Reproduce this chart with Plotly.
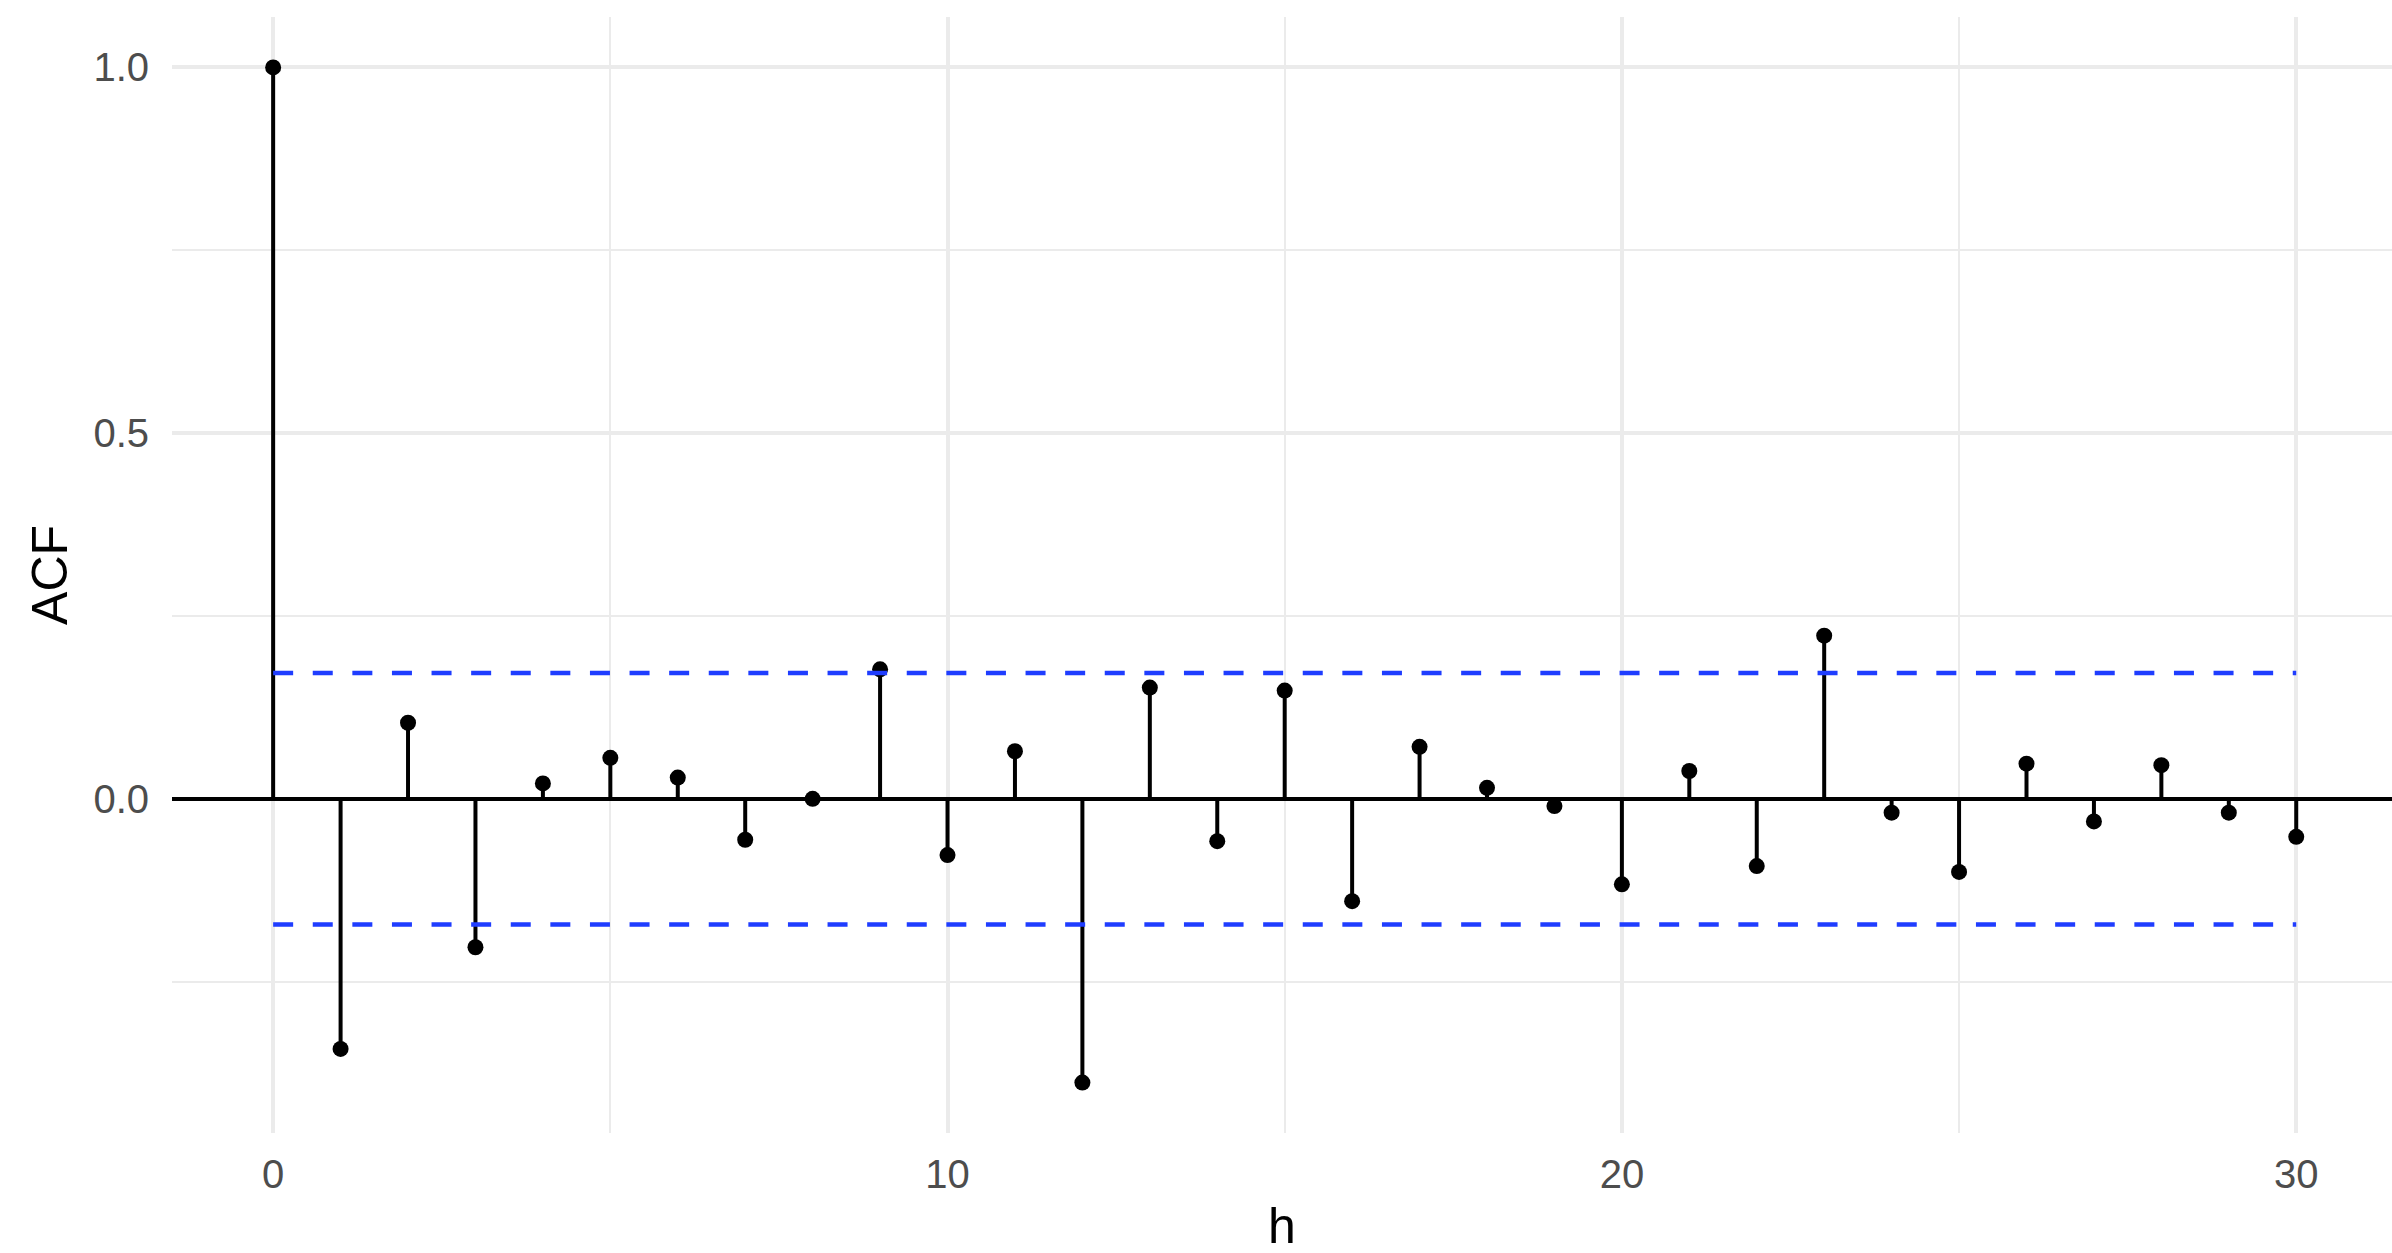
import plotly.graph_objects as go

# Sample autocorrelation function by lag
lags = list(range(0, 31))
acf = [1.0, -0.342, 0.104, -0.203, 0.021, 0.056, 0.029, -0.056, 0.0, 0.177,
       -0.077, 0.065, -0.388, 0.152, -0.058, 0.148, -0.140, 0.071, 0.015, -0.010,
       -0.117, 0.038, -0.092, 0.223, -0.019, -0.100, 0.048, -0.031, 0.046, -0.019,
       -0.052]
ci_bound = 0.172  # approximate 95% white-noise band

x_ticks = [0, 10, 20, 30]
y_ticks = [0.0, 0.5, 1.0]
y_tick_text = ["0.0", "0.5", "1.0"]

FONT = "Liberation Sans, Arial, Helvetica, sans-serif"

# vertical stems from zero up/down to each ACF value
stem_x, stem_y = [], []
for h, v in zip(lags, acf):
    stem_x += [h, h, None]
    stem_y += [0, v, None]

fig = go.Figure()

fig.add_trace(go.Scatter(
    x=stem_x, y=stem_y, mode="lines",
    line=dict(color="black", width=4),
    hoverinfo="skip", showlegend=False,
))

fig.add_trace(go.Scatter(
    x=lags, y=acf, mode="markers",
    marker=dict(color="black", size=16),
    showlegend=False,
))

for b in (ci_bound, -ci_bound):
    fig.add_trace(go.Scatter(
        x=[lags[0], lags[-1]], y=[b, b], mode="lines",
        line=dict(color="#1F3DFF", width=4.5, dash="20px,19.6px"),
        hoverinfo="skip", showlegend=False,
    ))

fig.update_layout(
    width=2392, height=1253,
    margin=dict(l=172, r=0, t=17, b=120),
    paper_bgcolor="white", plot_bgcolor="white",
    font=dict(family=FONT, color="#4D4D4D", size=40),
    xaxis=dict(
        range=[-1.5, 31.42],
        tickmode="array", tickvals=x_ticks, ticktext=[str(t) for t in x_ticks],
        showgrid=True, gridcolor="#EBEBEB", gridwidth=3.5,
        minor=dict(dtick=5, tick0=0, showgrid=True, gridcolor="#EBEBEB", gridwidth=2.2),
        zeroline=False, showline=False, ticks="",
        ticklabelstandoff=14,
        tickfont=dict(family=FONT, size=40, color="#4D4D4D"),
    ),
    yaxis=dict(
        range=[-0.457, 1.069],
        tickmode="array", tickvals=y_ticks, ticktext=y_tick_text,
        showgrid=True, gridcolor="#EBEBEB", gridwidth=3.5,
        minor=dict(dtick=0.25, tick0=0, showgrid=True, gridcolor="#EBEBEB", gridwidth=2.2),
        zeroline=True, zerolinecolor="black", zerolinewidth=4,
        showline=False, ticks="",
        ticklabelstandoff=22,
        tickfont=dict(family=FONT, size=40, color="#4D4D4D"),
    ),
    annotations=[
        dict(text="h", xref="paper", yref="paper", x=0.5, y=-0.083,
             xanchor="center", yanchor="middle", showarrow=False,
             font=dict(family=FONT, size=50, color="black")),
        dict(text="ACF", xref="paper", yref="paper", x=-0.055, y=0.5,
             xanchor="center", yanchor="middle", textangle=-90, showarrow=False,
             font=dict(family=FONT, size=50, color="black")),
    ],
)

fig.write_html("out.html")
